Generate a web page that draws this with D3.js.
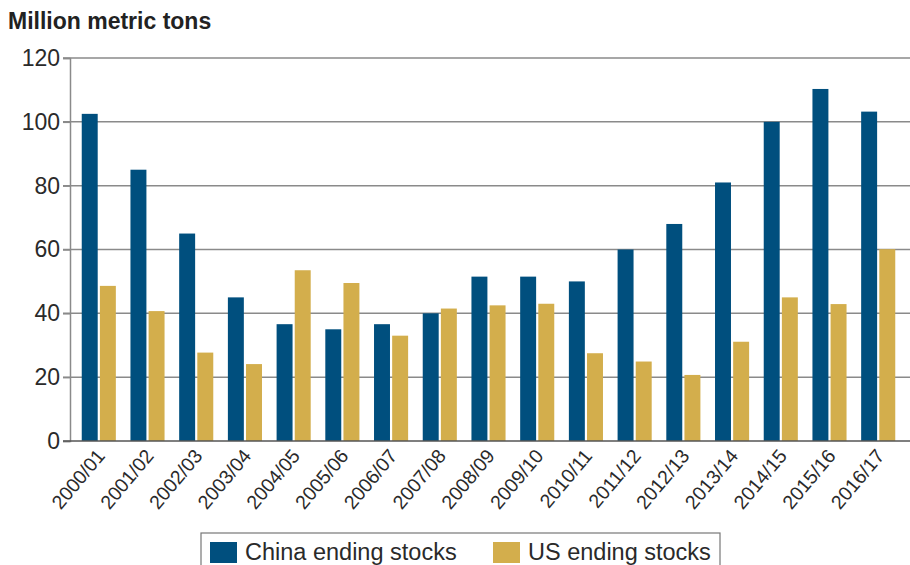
<!DOCTYPE html>
<html>
<head>
<meta charset="utf-8">
<script src="https://cdn.jsdelivr.net/npm/d3@7"></script>
<style>
  body { margin: 0; background: #fff; }
  svg { font-family: "Liberation Sans", Arial, sans-serif; }
</style>
</head>
<body>
<div id="chart"></div>
<script>
var years = ["2000/01","2001/02","2002/03","2003/04","2004/05","2005/06","2006/07","2007/08",
  "2008/09","2009/10","2010/11","2011/12","2012/13","2013/14","2014/15","2015/16","2016/17"];
var china = [102.5, 85, 65, 45, 36.6, 35, 36.6, 40, 51.5, 51.5, 50, 60, 68, 81, 100, 110.3, 103.2];
var us = [48.6, 40.7, 27.7, 24.1, 53.5, 49.5, 33, 41.5, 42.5, 43, 27.5, 24.9, 20.7, 31.1, 45, 42.9, 60.1];
var yTicks = [0, 20, 40, 60, 80, 100, 120];
var seriesNames = ["China ending stocks", "US ending stocks"];
var colors = ["#004f7e", "#d3ae4c"];

var width = 910, height = 565;
var svg = d3.select("#chart").append("svg")
  .attr("width", width).attr("height", height);

var x = d3.scaleBand().domain(years).range([72, 905]).paddingInner(0.3).paddingOuter(0.2);
var x1 = d3.scaleBand().domain([0, 1]).range([0, x.bandwidth()]).paddingInner(0.12);
var y = d3.scaleLinear().domain([0, 120]).range([441, 58]);

// gridlines
svg.append("g").selectAll("line")
  .data(yTicks.filter(function(d) { return d > 0; }))
  .enter().append("line")
  .attr("x1", 63).attr("x2", width)
  .attr("y1", function(d) { return y(d); })
  .attr("y2", function(d) { return y(d); })
  .attr("stroke", "#8a8a8a").attr("stroke-width", 1.5);

// y axis
var yAxis = svg.append("g")
  .attr("transform", "translate(70,0)")
  .call(d3.axisLeft(y).tickValues(yTicks).tickSize(7).tickPadding(3));
yAxis.select(".domain").attr("stroke", "#8a8a8a").attr("stroke-width", 1.5);
yAxis.selectAll(".tick line").attr("stroke", "#8a8a8a").attr("stroke-width", 1.5);
yAxis.selectAll("text").attr("font-size", 23).attr("fill", "#2a2a2a")
  .attr("font-family", "Liberation Sans, Arial, sans-serif");

// bars
var groups = svg.append("g").selectAll("g")
  .data(years).enter().append("g")
  .attr("transform", function(d) { return "translate(" + x(d) + ",0)"; });

groups.selectAll("rect")
  .data(function(d, i) { return [china[i], us[i]]; })
  .enter().append("rect")
  .attr("x", function(d, j) { return x1(j); })
  .attr("width", x1.bandwidth())
  .attr("y", function(d) { return y(d); })
  .attr("height", function(d) { return y(0) - y(d); })
  .attr("fill", function(d, j) { return colors[j]; });

// baseline
svg.append("line")
  .attr("x1", 63).attr("x2", width)
  .attr("y1", y(0)).attr("y2", y(0))
  .attr("stroke", "#555").attr("stroke-width", 1.5);

// x labels
svg.append("g").selectAll("text")
  .data(years).enter().append("text")
  .attr("transform", function(d) {
    return "translate(" + (x(d) + x.bandwidth() / 2 + 2) + ",452) rotate(-50)";
  })
  .attr("text-anchor", "end")
  .attr("dy", "0.35em")
  .attr("font-size", 19.5)
  .attr("fill", "#2a2a2a")
  .text(function(d) { return d; });

// title
svg.append("text")
  .attr("x", 8).attr("y", 29)
  .attr("font-size", 23).attr("font-weight", "bold").attr("fill", "#222")
  .text("Million metric tons");

// legend
var legend = svg.append("g");
legend.append("rect")
  .attr("x", 201).attr("y", 533).attr("width", 519).attr("height", 45)
  .attr("fill", "#fff").attr("stroke", "#777").attr("stroke-width", 1.2);
var legX = [210, 493];
seriesNames.forEach(function(name, i) {
  legend.append("rect")
    .attr("x", legX[i]).attr("y", 542).attr("width", 27).attr("height", 21)
    .attr("fill", colors[i]);
  legend.append("text")
    .attr("x", legX[i] + 35).attr("y", 560)
    .attr("font-size", 23.5).attr("fill", "#2a2a2a")
    .text(name);
});
</script>
</body>
</html>
